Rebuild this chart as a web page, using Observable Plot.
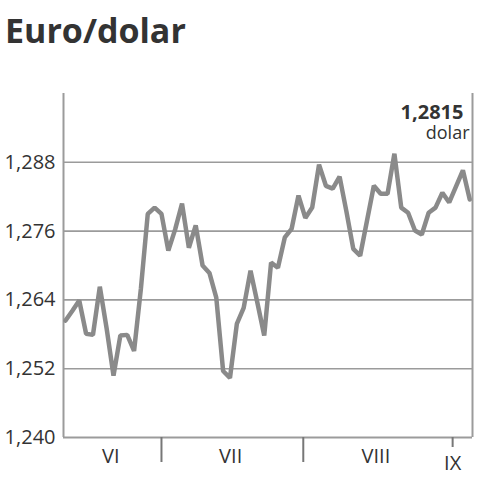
<!DOCTYPE html>
<html><head><meta charset="utf-8">
<script src="https://cdn.jsdelivr.net/npm/d3@7"></script>
<script src="https://cdn.jsdelivr.net/npm/@observablehq/plot@0.6"></script>
<style>
body{margin:0;background:#fff;}
#title{position:relative;height:60px;width:482px;}
#title span{position:absolute;left:5px;top:13px;font:700 34px/34px "Open Sans",sans-serif;color:#333;white-space:nowrap;}
#chart svg{display:block;}
</style></head><body>
<div id="title"><span>Euro/dolar</span></div>
<div id="chart"></div>
<script>
// daily EUR/USD rate, trading days from mid-June to early September
const rates = [
  1.2604, 1.2621, 1.2639, 1.2581, 1.2579, 1.2663, 1.2590, 1.2508, 1.2578, 1.2579,
  1.2551, 1.2660, 1.2790, 1.2801, 1.2790, 1.2726, 1.2763, 1.2808, 1.2731, 1.2770,
  1.2700, 1.2687, 1.2644, 1.2516, 1.2504, 1.2598, 1.2626, 1.2691, 1.2635, 1.2578,
  1.2705, 1.2696, 1.2749, 1.2764, 1.2822, 1.2783, 1.2801, 1.2876, 1.2839, 1.2834,
  1.2855, 1.2794, 1.2729, 1.2717, 1.2778, 1.2839, 1.2825, 1.2825, 1.2895, 1.2801,
  1.2792, 1.2761, 1.2754, 1.2792, 1.2801, 1.2827, 1.2810, 1.2838, 1.2866, 1.2815
];
const yDomain = [1.240, 1.300];
const yTicks = [1.240, 1.252, 1.264, 1.276, 1.288];
const yTickLabels = ["1,240", "1,252", "1,264", "1,276", "1,288"];
const gridValues = [1.252, 1.264, 1.276, 1.288];
// x positions in trading-day index units
const xDomain = [-0.3, 59.4];
const monthSeparators = [14, 34.7];
const monthLabels = ["VI", "VII", "VIII"];
const monthLabelPos = [6.6, 24.1, 45.3];
const lastMonthLabel = ["IX"];
const lastMonthPos = [56.5];
const lastValueLabel = "1,2815";
const unitLabel = "dolar";

const gray = "#9b9b9b";
const chart = Plot.plot({
  width: 482, height: 420,
  marginTop: 33, marginBottom: 43, marginLeft: 63, marginRight: 10,
  style: {fontFamily: '"Open Sans", sans-serif', fontSize: "20px", color: "#333", background: "#fff", overflow: "visible"},
  x: {type: "linear", domain: xDomain, axis: null},
  y: {domain: yDomain, axis: null},
  marks: [
    Plot.ruleY(gridValues, {stroke: gray, strokeWidth: 1.6}),
    Plot.ruleY([yDomain[0]], {stroke: gray, strokeWidth: 2}),
    Plot.ruleX(xDomain, {stroke: gray, strokeWidth: 2}),
    Plot.axisY({ticks: yTicks, tickSize: 0, tickPadding: 8,
      tickFormat: d => yTickLabels[yTicks.indexOf(d)], fill: "#333"}),
    Plot.axisX({ticks: monthSeparators, tickSize: 25, tickFormat: () => "", stroke: "#777", strokeWidth: 2}),
    Plot.axisX({ticks: lastMonthPos, tickSize: 10, tickPadding: 8, stroke: "#777", strokeWidth: 2,
      tickFormat: d => lastMonthLabel[lastMonthPos.indexOf(d)], fill: "#333"}),
    Plot.axisX({ticks: monthLabelPos, tickSize: 0, tickPadding: 11,
      tickFormat: d => monthLabels[monthLabelPos.indexOf(d)], fill: "#333"}),
    Plot.line(rates, {x: (d, i) => i, y: d => d, stroke: "#8a8a8a", strokeWidth: 4.5, strokeLinejoin: "miter"}),
    Plot.text([lastValueLabel], {text: d => d, frameAnchor: "top-right", dx: -9, dy: 11, lineAnchor: "top",
      textAnchor: "end", fontWeight: "bold", fontSize: 20, fill: "#333"}),
    Plot.text([unitLabel], {text: d => d, frameAnchor: "top-right", dx: -3, dy: 33, lineAnchor: "top",
      textAnchor: "end", fontSize: 18, fill: "#333"})
  ]
});
document.getElementById("chart").append(chart);
</script>
</body></html>
